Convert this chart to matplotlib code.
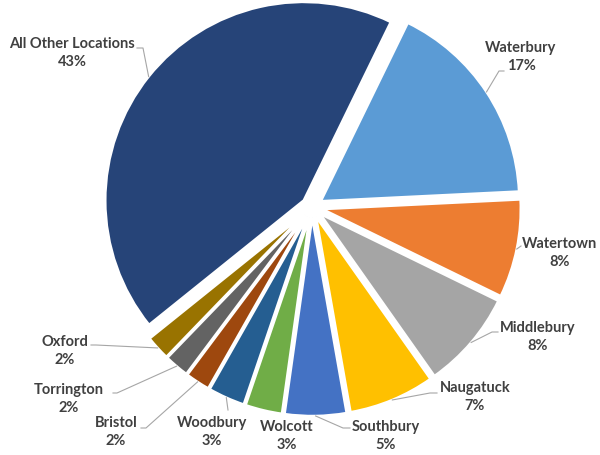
import matplotlib
matplotlib.use('Agg')
import matplotlib.pyplot as plt
import numpy as np

plt.rcParams['font.family'] = ['Lato', 'DejaVu Sans']

locations = ['Waterbury', 'Watertown', 'Middlebury', 'Naugatuck', 'Southbury',
             'Wolcott', 'Woodbury', 'Bristol', 'Torrington', 'Oxford',
             'All Other Locations']
shares = [17, 8, 8, 7, 5, 3, 3, 2, 2, 2, 43]
colors = ['#5B9BD5', '#ED7D31', '#A5A5A5', '#FFC000', '#4472C4', '#70AD47',
          '#255E91', '#9E480E', '#636363', '#997300', '#264478']

# layout in pixels: pie centre, radius, canvas size
cx, cy, rad = 312, 207, 198.5
W, H = 600, 455

# label centres (pixels)
label_pos = {
    'Waterbury': (521, 57),
    'Watertown': (560, 253),
    'Middlebury': (538, 337),
    'Naugatuck': (475, 397),
    'Southbury': (386, 436),
    'Wolcott': (287, 436),
    'Woodbury': (212, 432),
    'Bristol': (116, 432),
    'Torrington': (69, 399),
    'Oxford': (65, 351),
    'All Other Locations': (72, 53),
}

# leader line start / elbow points (pixels); the end sits on the wedge
leader_pts = {
    'Waterbury': [(504, 71), (499, 71)],
    'Watertown': [(521, 246)],
    'Middlebury': [(498, 332), (492, 332)],
    'Naugatuck': [(437, 393), (430, 393)],
    'Southbury': [(350, 428), (343, 428)],
    'Woodbury': [(228, 410)],
    'Bristol': [(141, 428), (146, 428)],
    'Torrington': [(113, 393), (117, 393)],
    'Oxford': [(91, 345), (96, 345)],
    'All Other Locations': [(137, 48), (143, 48)],
}


def to_data(px, py):
    return (px - cx) / rad, (cy - py) / rad


fig = plt.figure(figsize=(6, 4.55), dpi=100)
ax = fig.add_axes([0, 0, 1, 1])

wedges, _ = ax.pie(shares, colors=colors, startangle=64, counterclock=False,
                   explode=[0.053] * len(shares), radius=1,
                   wedgeprops=dict(edgecolor='white', linewidth=1.8))

for w, name, val in zip(wedges, locations, shares):
    tx, ty = to_data(*label_pos[name])
    ax.text(tx, ty, f'{name}\n{val}%', ha='center', va='center',
            fontsize=10.5, fontweight='bold', color='#404040', linespacing=1.3)
    if name in leader_pts:
        mid = np.deg2rad((w.theta1 + w.theta2) / 2)
        ex = w.center[0] + w.r * np.cos(mid)
        ey = w.center[1] + w.r * np.sin(mid)
        pts = [to_data(*p) for p in leader_pts[name]] + [(ex, ey)]
        xs, ys = zip(*pts)
        ax.plot(xs, ys, color='#A6A6A6', lw=0.8)

ax.set_xlim(-cx / rad, (W - cx) / rad)
ax.set_ylim(-(H - cy) / rad, cy / rad)
ax.set_aspect('equal')
ax.axis('off')

fig.savefig('out.png', dpi=100)
